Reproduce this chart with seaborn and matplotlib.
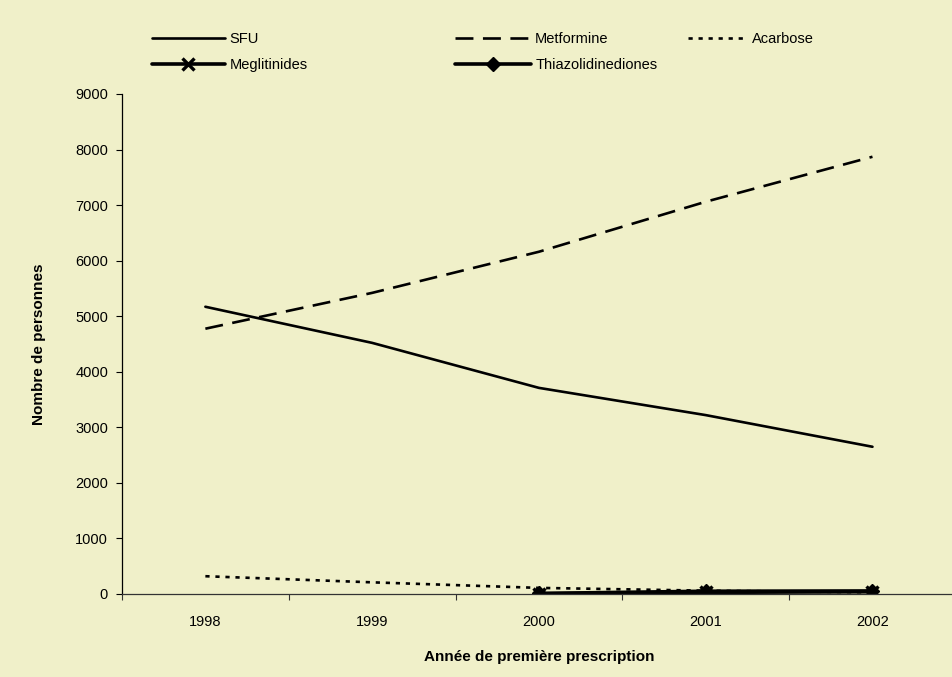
import numpy as np
import pandas as pd
import seaborn as sns
import matplotlib.pyplot as plt

# Data
years = ["1998", "1999", "2000", "2001", "2002"]
sfu = [5170, 4520, 3710, 3220, 2650]
metformine = [4775, 5420, 6160, 7060, 7870]
acarbose = [320, 210, 110, 60, 30]
meglitinides = [None, None, 5, 30, 40]
thiazolidinediones = [None, None, 10, 50, 55]

bg = "#F0F0C9"
sns.set_theme(style="white")
plt.rcParams["font.family"] = ["Liberation Sans", "DejaVu Sans"]
plt.rcParams["text.color"] = "black"
plt.rcParams["axes.labelcolor"] = "black"
plt.rcParams["xtick.color"] = "black"
plt.rcParams["ytick.color"] = "black"

fig = plt.figure(figsize=(9.53, 6.77), dpi=100, facecolor=bg)
ax = fig.add_axes([0.128, 0.1226, 0.875, 0.7386])
ax.set_facecolor(bg)

series = [
    ("SFU", sfu, dict(linestyle="-", lw=1.9)),
    ("Metformine", metformine, dict(linestyle=(0, (6.8, 3.6)), lw=1.9)),
    ("Acarbose", acarbose, dict(linestyle=(0, (1.6, 2.2)), lw=1.9)),
    ("Meglitinides", meglitinides,
     dict(linestyle="-", lw=2.6, marker="x", ms=9, mew=2.4, mec="black")),
    ("Thiazolidinediones", thiazolidinediones,
     dict(linestyle="-", lw=2.6, marker="D", ms=7.5, mew=1, mec="black")),
]

lines = {}
for name, vals, style in series:
    df = pd.DataFrame({"x": np.arange(len(years)), "y": vals}).dropna()
    n0 = len(ax.lines)
    sns.lineplot(data=df, x="x", y="y", ax=ax, color="black", legend=False,
                 label=name, **style)
    lines[name] = ax.lines[n0]
if ax.get_legend() is not None:
    ax.get_legend().remove()

# axes styling
ax.set_xlim(-0.5, 4.5)
ax.set_ylim(0, 9000)
ax.set_yticks(range(0, 9001, 1000))
ax.set_xticks(np.arange(-0.5, 5.0, 1.0))
ax.set_xticklabels([])
ax.set_xticks(np.arange(len(years)), minor=True)
ax.set_xticklabels(years, minor=True)
ax.tick_params(axis="x", which="major", direction="out", length=4, width=0.8,
               color="#333333", bottom=True)
ax.tick_params(axis="x", which="minor", length=0, pad=15, labelsize=10.5)
ax.tick_params(axis="y", direction="out", length=4, width=0.8, color="black",
               left=True, pad=6, labelsize=10.5)
for s in ["top", "right"]:
    ax.spines[s].set_visible(False)
ax.spines["left"].set_color("black")
ax.spines["bottom"].set_color("#333333")
ax.spines["left"].set_linewidth(0.9)
ax.spines["bottom"].set_linewidth(0.9)

ax.set_xlabel("Année de première prescription", fontsize=11, fontweight="bold",
              labelpad=15)
ax.set_ylabel("Nombre de personnes", fontsize=11, fontweight="bold", labelpad=21)

# legend: three columns placed separately
cols = [
    (["SFU", "Meglitinides"], 0.1595, 5.0),
    (["Metformine", "Thiazolidinediones"], 0.4774, 5.2),
    (["Acarbose"], 0.7219, 4.1),
]
for names, xpos, hl in cols:
    fig.legend([lines[n] for n in names], names, loc="upper left",
               bbox_to_anchor=(xpos, 0.952), bbox_transform=fig.transFigure,
               frameon=False, fontsize=10.5, handlelength=hl, handletextpad=0.3,
               borderpad=0, borderaxespad=0, labelspacing=0.8)

fig.savefig("out.png", dpi=100, facecolor=bg)
